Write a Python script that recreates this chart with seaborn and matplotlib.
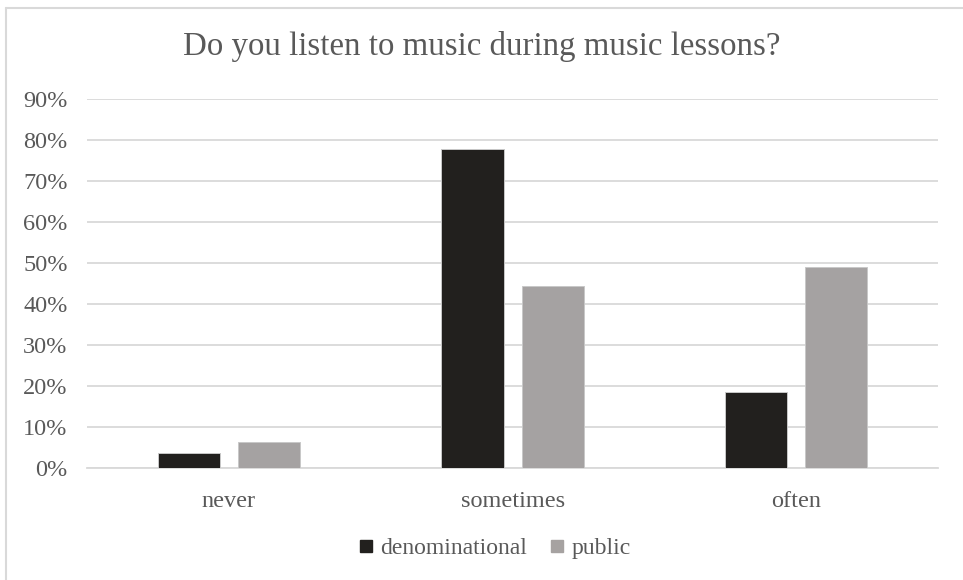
import pandas as pd
import matplotlib.pyplot as plt
import seaborn as sns
from matplotlib.lines import Line2D
from matplotlib.ticker import PercentFormatter

# values (share of respondents)
answers = ["never", "sometimes", "often"]
denominational = [0.037, 0.778, 0.185]
public = [0.065, 0.444, 0.491]
school_types = ["denominational", "public"]

df = pd.DataFrame({
    "answer": answers * 2,
    "school": ["denominational"] * 3 + ["public"] * 3,
    "share": denominational + public,
})

sns.set_theme(style="white")
plt.rcParams["font.family"] = ["Liberation Serif", "DejaVu Serif"]

fig = plt.figure(figsize=(9.63, 5.8), dpi=100)
ax = fig.add_axes([0.0904, 0.1926, 0.8838, 0.6364])

colors = {"denominational": "#22201e", "public": "#a6a2a1"}
sns.barplot(
    data=df, x="answer", y="share", hue="school", hue_order=school_types,
    palette=colors, width=0.565, gap=0.225, edgecolor="#c8c8c8",
    linewidth=0.7, ax=ax, legend=False, zorder=3,
)

ax.set_ylim(0, 0.9)
ax.set_yticks([i / 10 for i in range(10)])
ax.yaxis.set_major_formatter(PercentFormatter(1.0, decimals=0))
ax.grid(axis="y", color="#d9d9d9", linewidth=1.3, zorder=0)
ax.set_axisbelow(True)
for s in ["top", "right", "left"]:
    ax.spines[s].set_visible(False)
ax.spines["bottom"].set_color("#d9d9d9")
ax.spines["bottom"].set_linewidth(1.3)
ax.set_xlabel("")
ax.set_ylabel("")
ax.tick_params(axis="y", length=0, pad=14, labelsize=17.5, labelcolor="#595959")
ax.tick_params(axis="x", length=0, pad=16, labelsize=17.5, labelcolor="#595959")

fig.text(0.5, 0.92, "Do you listen to music during music lessons?",
         ha="center", va="center", fontsize=23.7, color="#595959")

handles = [Line2D([], [], marker="s", linestyle="", markersize=9,
                  color=colors[k]) for k in school_types]
fig.legend(handles, school_types, loc="center", bbox_to_anchor=(0.513, 0.055),
           ncol=2, frameon=False, fontsize=17, handlelength=0.7,
           handletextpad=0.25, columnspacing=0.95, labelcolor="#595959")

# chart frame (left and top edges visible in the crop)
fig.add_artist(Line2D([0.0065, 0.0065], [0, 0.986], color="#d9d9d9",
                      linewidth=1.5, transform=fig.transFigure))
fig.add_artist(Line2D([0.0065, 1], [0.986, 0.986], color="#d9d9d9",
                      linewidth=1.5, transform=fig.transFigure))

fig.savefig("out.png", dpi=100, facecolor="white")
